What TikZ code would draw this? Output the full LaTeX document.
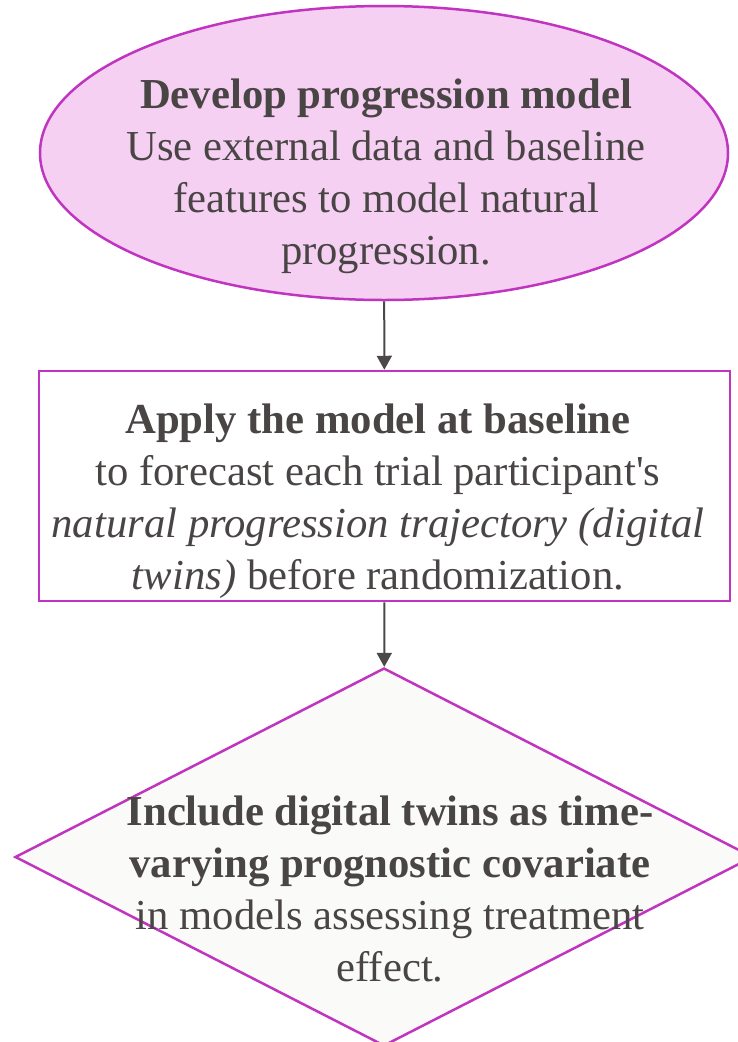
\documentclass[tikz,border=0pt]{standalone}
\usepackage{fontspec}
\setmainfont{Liberation Serif}
\usetikzlibrary{shapes.geometric,arrows.meta}
\definecolor{txt}{HTML}{4A4545}
\definecolor{bord}{HTML}{C034C0}
\definecolor{pinkfill}{HTML}{F5D0F2}
\definecolor{dfill}{HTML}{FAFAF8}
\definecolor{arr}{HTML}{4D4848}
\begin{document}
\begin{tikzpicture}[x=1pt,y=-1pt,
  outline/.style={draw=bord, line width=2.5pt, inner sep=0pt},
  lbl/.style={text=txt, align=center, font=\fontsize{42.7}{52}\selectfont, inner sep=0pt},
  conn/.style={draw=arr, line width=2pt, -{Triangle[length=14pt,width=15pt]}}]
\useasboundingbox (0,0) rectangle (738,1042);
\node[outline, ellipse, fill=pinkfill, minimum width=688pt, minimum height=294pt] (dev) at (384,153) {};
\node[outline, rectangle, fill=white, minimum width=691pt, minimum height=230pt] (app) at (384.5,486) {};
\node[outline, diamond, fill=dfill, minimum width=738pt, minimum height=378pt] (inc) at (384,857) {};
\node[lbl] (devt) at (386,176) {\textbf{Develop progression model}\\Use external data and baseline\\features to model natural\\progression.};
\node[lbl] (appt) at (378,501) {\textbf{Apply the model at baseline}\\to forecast each trial participant\textquotesingle s\\\textit{natural progression trajectory (digital}\\\textit{twins)} before randomization.};
\node[lbl] (inct) at (390,889) {\textbf{Include digital twins as time-}\\\textbf{varying prognostic covariate}\\in models assessing treatment\\effect.};
\draw[conn] (dev) -- (app);
\draw[conn] (app) -- (inc);
\end{tikzpicture}
\end{document}
